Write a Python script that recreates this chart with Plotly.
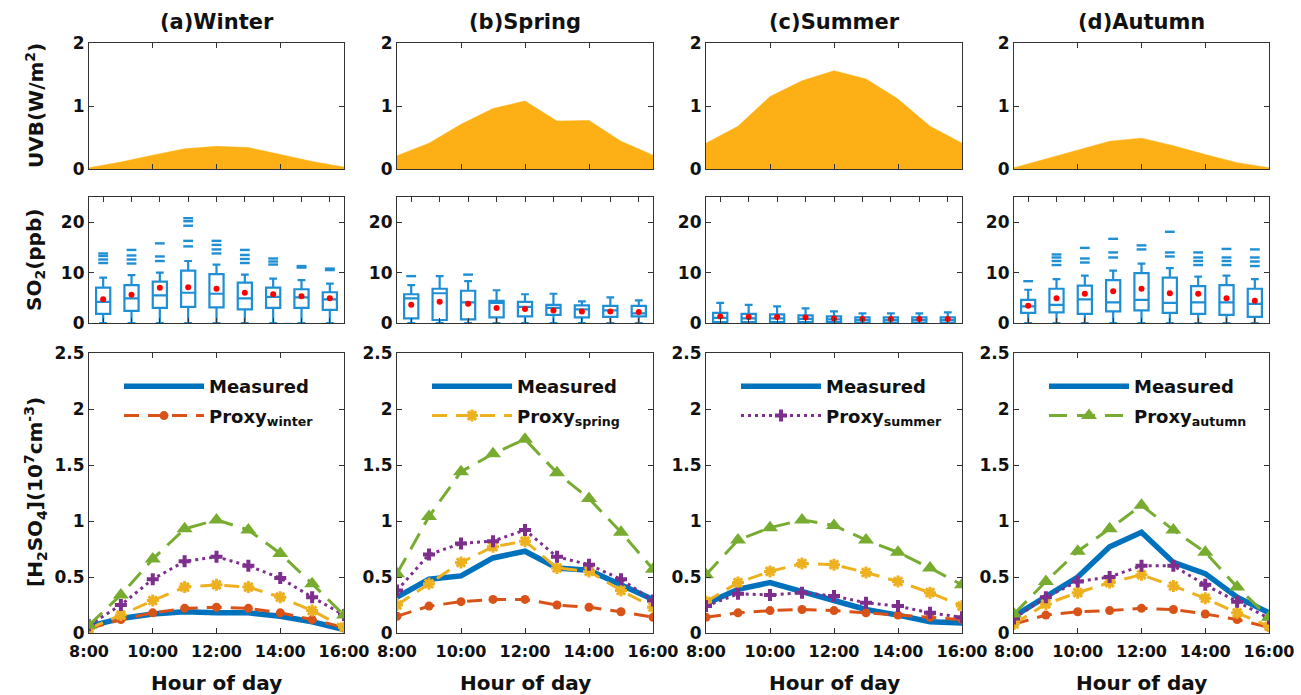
import plotly.graph_objects as go

W, H = 1301, 695

hours = [8, 9, 10, 11, 12, 13, 14, 15, 16]
hour_ticks = [8, 10, 12, 14, 16]
hour_labels = ["8:00", "10:00", "12:00", "14:00", "16:00"]
season_keys = ["winter", "spring", "summer", "autumn"]
panel_titles = ["(a)Winter", "(b)Spring", "(c)Summer", "(d)Autumn"]

# UVB (W/m2)
uvb_winter = [0.02, 0.11, 0.22, 0.32, 0.36, 0.34, 0.23, 0.12, 0.03]
uvb_spring = [0.21, 0.41, 0.71, 0.96, 1.08, 0.76, 0.77, 0.44, 0.22]
uvb_summer = [0.41, 0.68, 1.15, 1.40, 1.56, 1.43, 1.11, 0.68, 0.41]
uvb_autumn = [0.02, 0.16, 0.29, 0.44, 0.49, 0.37, 0.23, 0.10, 0.02]

# SO2 (ppb) box statistics
so2_winter_q1 = [1.8, 2.4, 3.0, 3.2, 3.1, 2.7, 3.0, 3.0, 2.6]
so2_winter_med = [4.2, 4.9, 5.5, 6.0, 5.8, 4.9, 5.2, 5.1, 4.7]
so2_winter_q3 = [7.0, 7.5, 8.2, 10.4, 9.7, 8.0, 7.0, 6.7, 6.1]
so2_winter_lo = [0, 0, 0, 0, 0, 0, 0, 0, 0]
so2_winter_hi = [9.0, 9.5, 10.0, 12.3, 11.6, 9.6, 8.8, 8.5, 7.8]
so2_winter_mean = [4.7, 5.6, 7.0, 7.1, 6.8, 6.0, 5.7, 5.3, 4.9]
so2_winter_out = [[11.9, 12.6, 13.3, 13.8], [11.8, 12.6, 13.4, 14.5], [12.3, 13.2, 15.8],
                  [15.2, 16.3, 19.3, 20.2, 20.8], [13.8, 14.6, 15.5, 16.3], [11.9, 12.7, 13.5, 14.5],
                  [11.6, 12.2, 12.8], [11.0, 11.3], [10.5, 10.8]]

so2_spring_q1 = [0.9, 0.6, 0.7, 1.1, 1.3, 1.6, 1.1, 1.2, 1.3]
so2_spring_med = [4.9, 5.9, 4.1, 4.0, 3.2, 3.0, 2.7, 2.5, 1.9]
so2_spring_q3 = [5.7, 6.8, 6.4, 4.4, 4.2, 3.6, 3.5, 3.4, 3.4]
so2_spring_lo = [0, 0, 0, 0, 0, 0, 0, 0, 0]
so2_spring_hi = [7.5, 9.3, 8.3, 6.5, 5.7, 5.8, 4.3, 5.1, 4.5]
so2_spring_mean = [3.6, 4.2, 3.8, 3.0, 2.8, 2.5, 2.3, 2.3, 2.2]
so2_spring_out = [[9.3], [], [9.6], [], [], [], [], [], []]

so2_summer_q1 = [0.2, 0.2, 0.2, 0.2, 0.2, 0.1, 0.1, 0.1, 0.1]
so2_summer_med = [1.0, 0.9, 0.9, 0.8, 0.7, 0.6, 0.6, 0.6, 0.6]
so2_summer_q3 = [2.0, 1.8, 1.7, 1.5, 1.3, 1.1, 1.1, 1.1, 1.1]
so2_summer_lo = [0, 0, 0, 0, 0, 0, 0, 0, 0]
so2_summer_hi = [4.0, 3.6, 3.3, 2.9, 2.3, 1.9, 1.9, 1.9, 2.1]
so2_summer_mean = [1.3, 1.2, 1.2, 1.1, 0.9, 0.8, 0.8, 0.8, 0.8]
so2_summer_out = [[], [], [], [], [], [], [], [], []]

so2_autumn_q1 = [2.0, 2.1, 1.8, 2.3, 2.5, 2.0, 1.8, 1.6, 1.2]
so2_autumn_med = [3.3, 3.6, 4.7, 4.1, 4.6, 4.0, 4.1, 4.1, 3.8]
so2_autumn_q3 = [4.6, 6.8, 7.4, 8.5, 9.9, 9.0, 7.3, 7.5, 6.8]
so2_autumn_lo = [0, 0, 0, 0, 0, 0, 0, 0, 0]
so2_autumn_hi = [6.6, 8.7, 9.4, 10.4, 11.8, 10.9, 9.2, 9.4, 8.7]
so2_autumn_mean = [3.4, 4.9, 5.8, 6.3, 6.8, 5.9, 5.8, 4.9, 4.4]
so2_autumn_out = [[8.3], [11.5, 12.3, 13.0, 13.6], [12.0, 12.8, 14.9], [13.0, 14.0, 16.7],
                  [14.6, 15.4], [13.2, 14.0, 18.1], [11.5, 12.3, 13.0, 14.0],
                  [11.5, 12.3, 13.0, 14.7], [11.3, 12.2, 13.0, 14.6]]

# [H2SO4] (1e7 cm-3)
h2so4_measured = {
    "winter": [0.06, 0.13, 0.17, 0.19, 0.18, 0.18, 0.15, 0.10, 0.03],
    "spring": [0.32, 0.48, 0.51, 0.67, 0.73, 0.58, 0.56, 0.43, 0.30],
    "summer": [0.26, 0.39, 0.45, 0.37, 0.30, 0.21, 0.16, 0.10, 0.09],
    "autumn": [0.15, 0.33, 0.50, 0.77, 0.90, 0.63, 0.53, 0.32, 0.18],
}
proxy_winter = {
    "winter": [0.04, 0.12, 0.18, 0.22, 0.23, 0.22, 0.18, 0.12, 0.05],
    "spring": [0.15, 0.24, 0.28, 0.30, 0.30, 0.25, 0.23, 0.19, 0.14],
    "summer": [0.14, 0.18, 0.20, 0.21, 0.20, 0.18, 0.16, 0.14, 0.12],
    "autumn": [0.08, 0.16, 0.19, 0.20, 0.22, 0.21, 0.17, 0.12, 0.05],
}
proxy_spring = {
    "winter": [0.04, 0.16, 0.29, 0.41, 0.43, 0.41, 0.32, 0.20, 0.05],
    "spring": [0.25, 0.44, 0.63, 0.77, 0.82, 0.58, 0.55, 0.38, 0.23],
    "summer": [0.28, 0.45, 0.55, 0.62, 0.61, 0.54, 0.46, 0.36, 0.24],
    "autumn": [0.08, 0.26, 0.36, 0.45, 0.52, 0.42, 0.31, 0.18, 0.06],
}
proxy_summer = {
    "winter": [0.07, 0.25, 0.48, 0.64, 0.68, 0.60, 0.49, 0.32, 0.16],
    "spring": [0.38, 0.70, 0.80, 0.82, 0.92, 0.68, 0.61, 0.48, 0.29],
    "summer": [0.24, 0.35, 0.34, 0.36, 0.33, 0.27, 0.24, 0.18, 0.14],
    "autumn": [0.13, 0.32, 0.46, 0.50, 0.60, 0.60, 0.43, 0.28, 0.13],
}
proxy_autumn = {
    "winter": [0.07, 0.34, 0.66, 0.93, 1.01, 0.92, 0.71, 0.44, 0.16],
    "spring": [0.53, 1.04, 1.44, 1.60, 1.73, 1.43, 1.20, 0.90, 0.57],
    "summer": [0.52, 0.83, 0.94, 1.01, 0.96, 0.83, 0.72, 0.58, 0.43],
    "autumn": [0.17, 0.46, 0.73, 0.93, 1.14, 0.92, 0.72, 0.41, 0.14],
}

uvb = {"winter": uvb_winter, "spring": uvb_spring, "summer": uvb_summer, "autumn": uvb_autumn}
so2 = {
    "winter": (so2_winter_q1, so2_winter_med, so2_winter_q3, so2_winter_lo, so2_winter_hi, so2_winter_mean, so2_winter_out),
    "spring": (so2_spring_q1, so2_spring_med, so2_spring_q3, so2_spring_lo, so2_spring_hi, so2_spring_mean, so2_spring_out),
    "summer": (so2_summer_q1, so2_summer_med, so2_summer_q3, so2_summer_lo, so2_summer_hi, so2_summer_mean, so2_summer_out),
    "autumn": (so2_autumn_q1, so2_autumn_med, so2_autumn_q3, so2_autumn_lo, so2_autumn_hi, so2_autumn_mean, so2_autumn_out),
}

# ---------------- styling ----------------
FONT = "DejaVu Sans, Arial, sans-serif"
TXT = "#111111"
C_MEAS = "#0072BD"
C_WIN = "#D95319"
C_SPR = "#EDB120"
C_SUM = "#7E2F8E"
C_AUT = "#77AC30"
C_BOX = "#1E8FD5"
C_UVB = "#FDB015"
AX = "#333333"

col_px = [(89, 344), (397, 653), (706, 962), (1014, 1269)]
row_px = [(43, 169), (197, 323), (353, 633)]

def xd(a, b):
    return [a / W, b / W]

def yd(top, bot):
    return [1 - bot / H, 1 - top / H]

proxy_defs = [
    ("winter", proxy_winter, C_WIN, dict(symbol="circle", size=9, color=C_WIN), "15px,9px", 3),
    ("spring", proxy_spring, C_SPR, dict(symbol="asterisk-open", size=10, color=C_SPR, line=dict(color=C_SPR, width=3)), "15px,9px", 3),
    ("summer", proxy_summer, C_SUM, dict(symbol="cross", size=10, color=C_SUM), "3px,4px", 3),
    ("autumn", proxy_autumn, C_AUT, dict(symbol="triangle-up", size=14, color=C_AUT), "18px,10px", 3),
]

fig = go.Figure()
layout = dict(
    width=W, height=H,
    autosize=False,
    margin=dict(l=0, r=0, t=0, b=0, pad=0, autoexpand=False),
    paper_bgcolor="white", plot_bgcolor="white",
    font=dict(family=FONT, size=17, color=TXT, weight="bold"),
    showlegend=True,
)

def axis_common(**kw):
    d = dict(showline=True, linecolor=AX, linewidth=1.2, mirror="ticks", ticks="inside",
             ticklen=5, tickwidth=1.2, tickcolor=AX, showgrid=False, zeroline=False,
             automargin=False,
             tickfont=dict(family=FONT, size=17, color=TXT, weight="bold"))
    d.update(kw)
    return d

annotations = []
for c, key in enumerate(season_keys):
    for r in range(3):
        idx = r * 4 + c + 1
        xa = "x" if idx == 1 else f"x{idx}"
        ya = "y" if idx == 1 else f"y{idx}"
        xname = "xaxis" if idx == 1 else f"xaxis{idx}"
        yname = "yaxis" if idx == 1 else f"yaxis{idx}"
        if r == 0:
            layout[xname] = axis_common(domain=xd(*col_px[c]), range=[8, 16], tickvals=hour_ticks,
                                        showticklabels=False, anchor=ya)
            layout[yname] = axis_common(domain=yd(*row_px[r]), range=[0, 2], tickvals=[0, 1, 2], anchor=xa)
            fig.add_trace(go.Scatter(x=hours, y=uvb[key], mode="lines", fill="tozeroy",
                                     fillcolor=C_UVB, line=dict(color=C_UVB, width=0.5),
                                     showlegend=False, xaxis=xa, yaxis=ya, hoverinfo="skip"))
        elif r == 1:
            q1, med, q3, lo, hi, mean, out = so2[key]
            layout[xname] = axis_common(domain=xd(*col_px[c]), range=[7.5, 16.5], tickvals=hours,
                                        showticklabels=False, anchor=ya)
            layout[yname] = axis_common(domain=yd(*row_px[r]), range=[0, 25], tickvals=[0, 10, 20], anchor=xa)
            fig.add_trace(go.Box(x=hours, q1=q1, median=med, q3=q3, lowerfence=lo, upperfence=hi,
                                 width=0.5, whiskerwidth=0.55, boxpoints=False,
                                 line=dict(color=C_BOX, width=2.2), fillcolor="rgba(0,0,0,0)",
                                 showlegend=False, xaxis=xa, yaxis=ya))
            ox = [h for h, vals in zip(hours, out) for _ in vals]
            oy = [v for vals in out for v in vals]
            if ox:
                fig.add_trace(go.Scatter(x=ox, y=oy, mode="markers",
                                         marker=dict(symbol="line-ew", size=7, color=C_BOX,
                                                     line=dict(color=C_BOX, width=2.4)),
                                         showlegend=False, xaxis=xa, yaxis=ya))
            fig.add_trace(go.Scatter(x=hours, y=mean, mode="markers",
                                     marker=dict(symbol="circle", size=6, color="#FF0000"),
                                     showlegend=False, xaxis=xa, yaxis=ya))
        else:
            layout[xname] = axis_common(domain=xd(*col_px[c]), range=[8, 16], tickvals=hour_ticks,
                                        ticktext=hour_labels, anchor=ya, ticklabelstandoff=4,
                                        tickfont=dict(family=FONT, size=16, color=TXT, weight="bold"))
            layout[yname] = axis_common(domain=yd(*row_px[r]), range=[0, 2.5],
                                        tickvals=[0, 0.5, 1, 1.5, 2, 2.5],
                                        ticktext=["0", "0.5", "1", "1.5", "2", "2.5"], anchor=xa)
            lg = "legend" if c == 0 else f"legend{c + 1}"
            fig.add_trace(go.Scatter(x=hours, y=h2so4_measured[key], mode="lines", name="Measured",
                                     line=dict(color=C_MEAS, width=5.5), legend=lg, legendrank=1,
                                     legendgroup=f"meas{c}",
                                     xaxis=xa, yaxis=ya))
            for pkey, pdata, pcol, pmark, pdash, pw in proxy_defs:
                fig.add_trace(go.Scatter(x=hours, y=pdata[key], mode="lines+markers",
                                         name=f"Proxy<sub>{pkey}</sub>",
                                         line=dict(color=pcol, width=pw, dash=pdash), marker=pmark,
                                         showlegend=(pkey == key), legend=lg, legendrank=2,
                                         legendgroup=f"prox{c}{pkey}",
                                         xaxis=xa, yaxis=ya))
            layout[lg] = dict(x=(col_px[c][0] + 30) / W, y=1 - 368 / H, xanchor="left", yanchor="top",
                              bgcolor="rgba(0,0,0,0)", borderwidth=0, itemwidth=80,
                              font=dict(family=FONT, size=18, color=TXT, weight="bold"),
                              tracegroupgap=3, traceorder="grouped")
            annotations.append(dict(text="Hour of day", x=(col_px[c][0] + col_px[c][1]) / 2 / W,
                                    y=1 - 683 / H, xref="paper", yref="paper", showarrow=False,
                                    xanchor="center", yanchor="middle",
                                    font=dict(family=FONT, size=20, color=TXT, weight="bold")))
    annotations.append(dict(text=panel_titles[c], x=(col_px[c][0] + col_px[c][1]) / 2 / W,
                            y=1 - 22 / H, xref="paper", yref="paper", showarrow=False,
                            xanchor="center", yanchor="middle",
                            font=dict(family=FONT, size=21, color=TXT, weight="bold")))

ytitles = [("UVB(W/m<sup>2</sup>)", 106), ("SO<sub>2</sub>(ppb)", 260),
           ("[H<sub>2</sub>SO<sub>4</sub>](10<sup>7</sup>cm<sup>-3</sup>)", 492)]
for txt, yc in ytitles:
    annotations.append(dict(text=txt, x=35 / W, y=1 - yc / H, xref="paper", yref="paper",
                            showarrow=False, textangle=-90, xanchor="center", yanchor="middle",
                            font=dict(family=FONT, size=20, color=TXT, weight="bold")))

layout["annotations"] = annotations
fig.update_layout(**layout)
fig.write_html("out.html", config={"displayModeBar": False},
               post_script="document.body.style.margin='0';document.body.style.overflow='hidden';")
